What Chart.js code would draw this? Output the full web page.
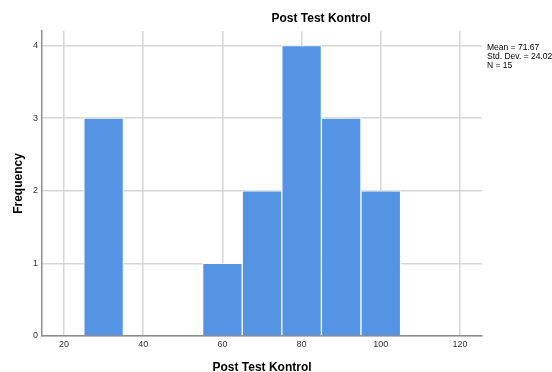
<!DOCTYPE html>
<html>
<head>
	<meta charset="utf-8" />
	<title>Post Test Kontrol</title>
	<script src="https://cdn.jsdelivr.net/npm/chart.js@4/dist/chart.umd.min.js"></script>
	<style>
		html, body { margin: 0; padding: 0; background: #fff; }
		#box { width: 552px; height: 372px; }
	</style>
</head>
<body>

<div id="box"><canvas id="myChart"></canvas></div>

<script type="text/javascript">
// histogram data (bin midpoints, width 10)
var binMids = [30, 60, 70, 80, 90, 100];
var counts = [3, 1, 2, 4, 3, 2];
var xTicks = [20, 40, 60, 80, 100, 120];
var yTicks = [0, 1, 2, 3, 4];
var statLines = ['Mean = 71.67', 'Std. Dev. = 24.029', 'N = 15'];
var chartTitle = 'Post Test Kontrol';

var fontFam = '"Liberation Sans", Arial, sans-serif';

// title and stats box drawn on top
var textPlugin = {
	id: 'spssText',
	afterDraw: function (chart) {
		var ctx = chart.ctx;
		ctx.save();
		ctx.fillStyle = '#000';
		ctx.font = 'bold 12px ' + fontFam;
		ctx.textAlign = 'center';
		ctx.textBaseline = 'middle';
		ctx.fillText(chartTitle, 321, 19);
		ctx.font = '8.5px ' + fontFam;
		ctx.textAlign = 'left';
		for (var i = 0; i < statLines.length; i++) {
			ctx.fillText(statLines[i], 487, 48 + i * 9);
		}
		ctx.restore();
	}
};

var ctx = document.getElementById('myChart').getContext('2d');
var chart = new Chart(ctx, {
	type: 'bar',
	data: {
		datasets: [{
			label: 'Frequency',
			data: binMids.map(function (m, i) { return {x: m, y: counts[i]}; }),
			backgroundColor: '#5594e4',
			borderColor: '#ffffff',
			borderWidth: 1,
			barPercentage: 1.0,
			categoryPercentage: 1.0
		}]
	},
	options: {
		responsive: true,
		maintainAspectRatio: false,
		animation: false,
		layout: { padding: { top: 31, right: 70, left: 0, bottom: 0 } },
		plugins: {
			legend: { display: false },
			tooltip: { enabled: false }
		},
		scales: {
			x: {
				type: 'linear',
				offset: false,
				min: 14.44,
				max: 125.56,
				afterBuildTicks: function (s) { s.ticks = xTicks.map(function (v) { return {value: v}; }); },
				afterFit: function (s) { s.height = 36; },
				grid: { color: '#d6d6d6', lineWidth: 1.5, drawTicks: false, offset: false },
				border: { color: '#8c8c8c', width: 1.5 },
				ticks: { font: { family: fontFam, size: 9 }, color: '#333', padding: 3 },
				title: { display: true, text: 'Post Test Kontrol', font: { family: fontFam, size: 12, weight: 'bold' }, color: '#000', padding: { top: 14, bottom: -3 } }
			},
			y: {
				min: 0,
				max: 4.2,
				afterBuildTicks: function (s) { s.ticks = yTicks.map(function (v) { return {value: v}; }); },
				afterFit: function (s) { s.width = 42; },
				grid: { color: '#d6d6d6', lineWidth: 1.5, drawTicks: false },
				border: { color: '#8c8c8c', width: 1.5 },
				ticks: { font: { family: fontFam, size: 9 }, color: '#333', padding: 4 },
				title: { display: true, text: 'Frequency', font: { family: fontFam, size: 12, weight: 'bold' }, color: '#000', padding: { top: 11, bottom: 0 } }
			}
		}
	},
	plugins: [textPlugin]
});
</script>
</body>
</html>
